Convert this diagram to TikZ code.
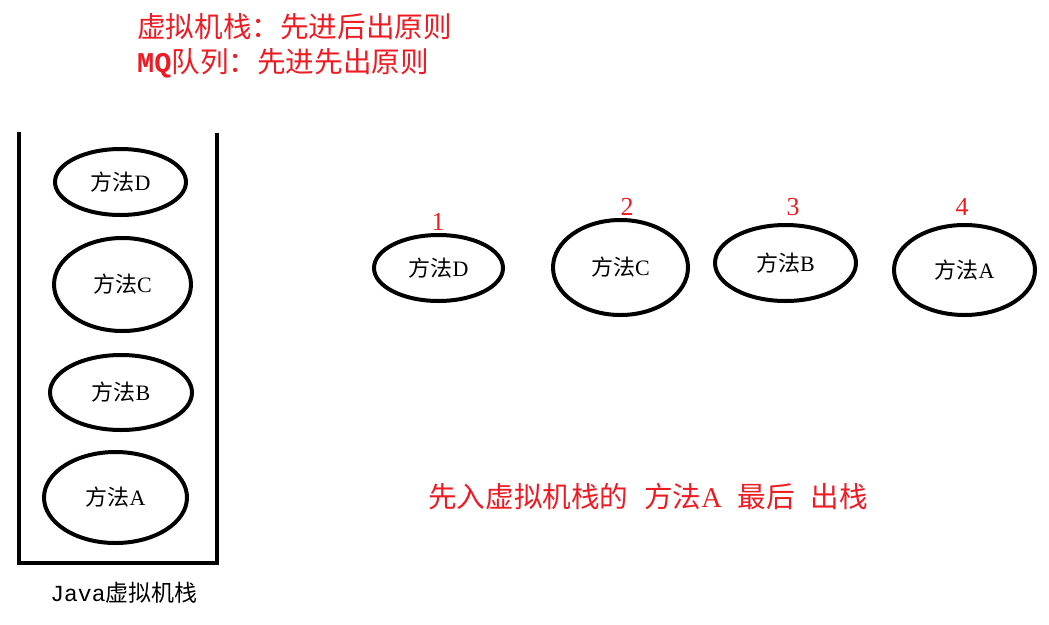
\documentclass[tikz,border=0pt]{standalone}
\usepackage{fontspec}
\setmainfont{Liberation Serif}
\setmonofont{Liberation Mono}
\newfontfamily\cjk{Noto Sans CJK SC}
\usetikzlibrary{shapes,positioning}
\definecolor{paintred}{RGB}{237,28,36}
\tikzstyle{method} = [ellipse, draw, line width=4pt, inner sep=0pt,
    font=\fontsize{22}{26}\selectfont]
\tikzstyle{stackwall} = [draw, line width=4pt]
\tikzstyle{note} = [text=paintred, inner sep=0pt, anchor=west,
    font=\fontsize{28.6}{32}\selectfont]
\tikzstyle{num} = [text=paintred, inner sep=0pt, font=\fontsize{26}{30}\selectfont]

\begin{document}
\begin{tikzpicture}[x=1pt, y=-1pt]
      \useasboundingbox (0,0) rectangle (1049,624);
      % rules at the top
      \node [note] (rulejvm) at (137,27) {{\cjk 虚拟机栈：先进后出原则}};
      \node [note] (rulemq) at (137,63) {{\ttfamily\bfseries MQ}{\cjk 队列：先进先出原则}};
      % the stack
      \draw [stackwall] (19,132) -- (19,563) -- (217,563) -- (217,133);
      \node [method, minimum width=131pt, minimum height=66pt] (sd) at (120.5,182) {{\cjk 方法}D};
      \node [method, minimum width=137pt, minimum height=93pt] (sc) at (122.5,284.5) {{\cjk 方法}C};
      \node [method, minimum width=142pt, minimum height=75pt] (sb) at (121,392.5) {{\cjk 方法}B};
      \node [method, minimum width=143pt, minimum height=91pt] (sa) at (115.5,497.5) {{\cjk 方法}A};
      \node [inner sep=0pt, font=\fontsize{23}{26}\selectfont] (jvm) at (124,593) {{\ttfamily Java}{\cjk 虚拟机栈}};
      % popping order
      \node [method, minimum width=129pt, minimum height=66pt] (qd) at (438.5,268) {{\cjk 方法}D};
      \node [method, minimum width=135pt, minimum height=95pt] (qc) at (620.5,267.5) {{\cjk 方法}C};
      \node [method, minimum width=141pt, minimum height=76pt] (qb) at (785.5,263) {{\cjk 方法}B};
      \node [method, minimum width=141pt, minimum height=90pt] (qa) at (964.5,270) {{\cjk 方法}A};
      \node [num] (n1) at (438,222) {1};
      \node [num] (n2) at (627,207) {2};
      \node [num] (n3) at (793,207) {3};
      \node [num] (n4) at (962,207) {4};
      \node [note] (last) at (428,497) {{\cjk 先入虚拟机栈的}\hspace{0.55em}{\cjk 方法}A\hspace{0.55em}{\cjk 最后}\hspace{0.55em}{\cjk 出栈}};
\end{tikzpicture}
\end{document}
